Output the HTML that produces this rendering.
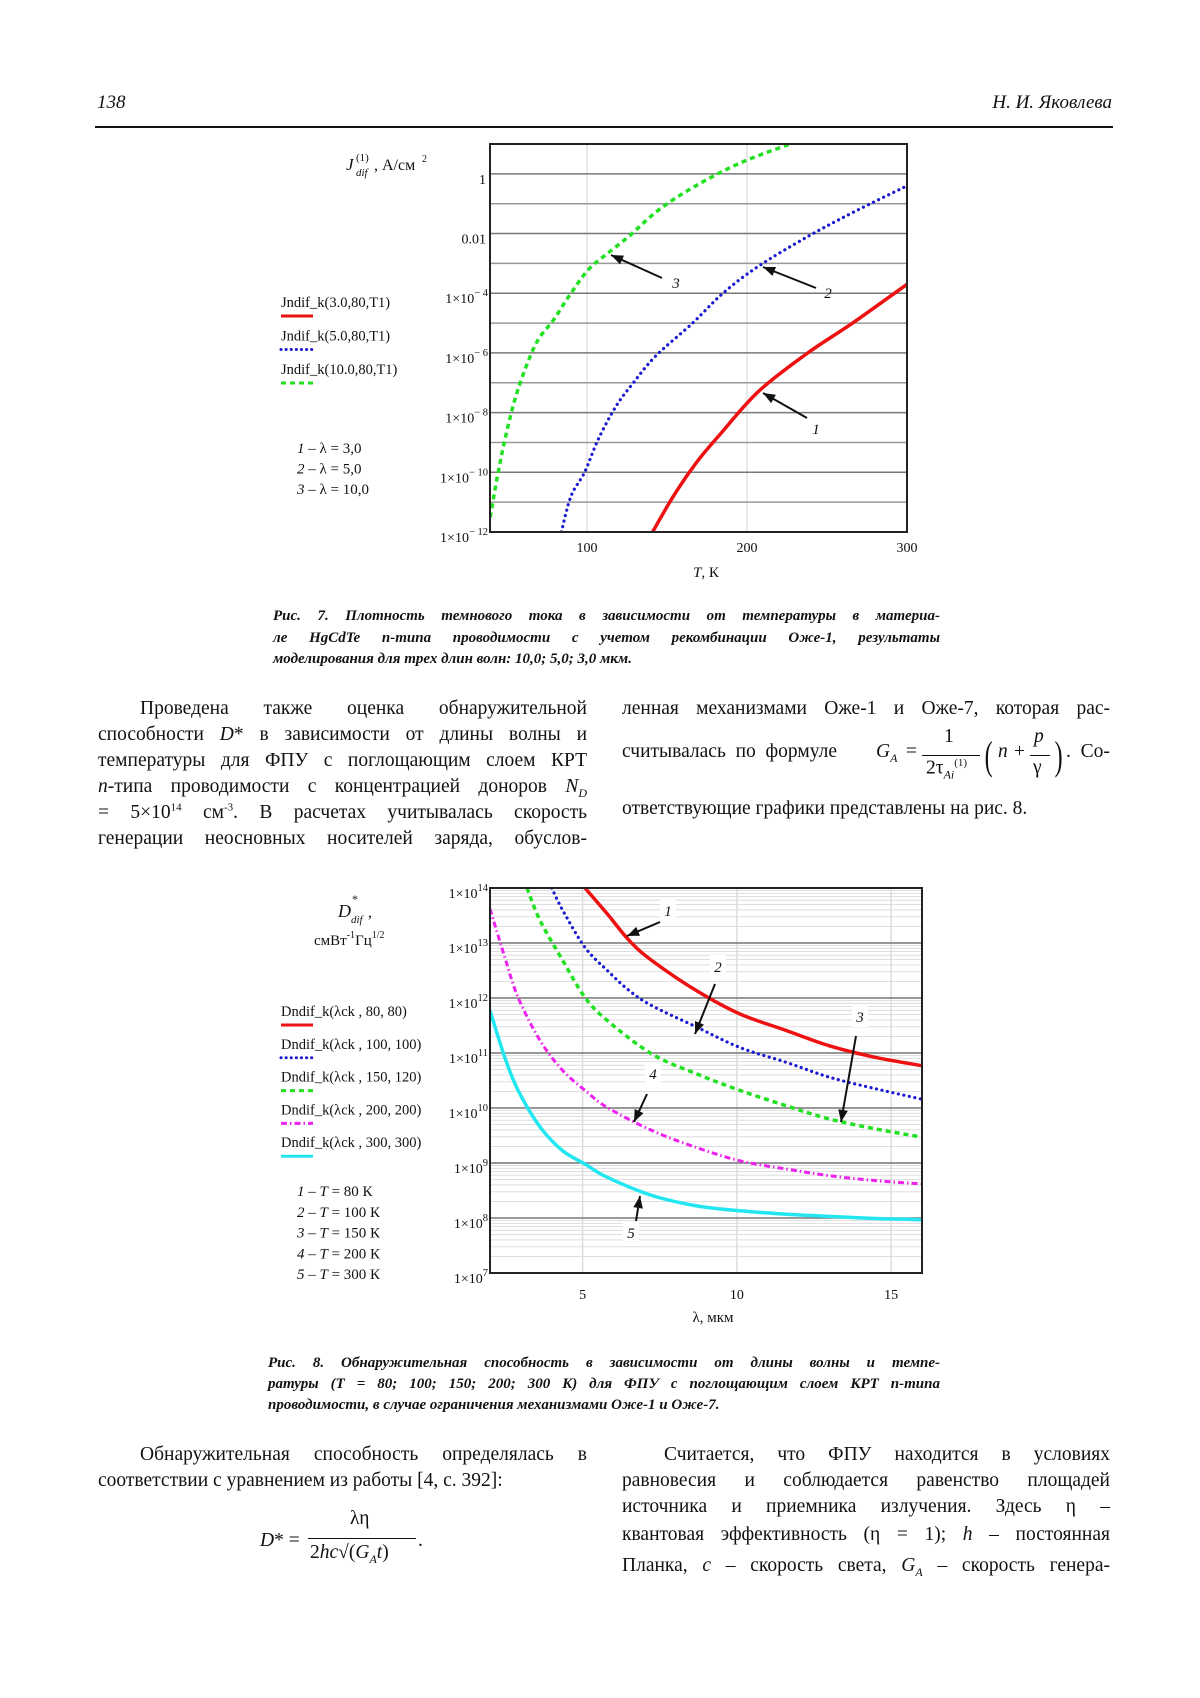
<!DOCTYPE html>
<html><head><meta charset="utf-8">
<style>
html,body{margin:0;padding:0;background:#fff;}
body{width:1200px;height:1698px;position:relative;overflow:hidden;font-family:"Liberation Serif","Noto Serif CJK SC",serif;color:#111;}
.ab{position:absolute;white-space:nowrap;}
.ln{position:absolute;font-size:19.5px;line-height:26px;height:26px;text-align:justify;text-align-last:justify;white-space:nowrap;box-sizing:border-box;}
.ln.ind{padding-left:42px;}
.ln.last{text-align-last:left;}
.ln sup,.ln sub{line-height:0;}
.cap{position:absolute;font-size:15px;font-weight:bold;font-style:italic;line-height:21px;text-align:justify;text-align-last:justify;white-space:nowrap;}
.cap.last{text-align-last:left;}
svg text{font-family:"Liberation Serif",serif;}
</style></head><body>
<div class="ab" style="left:97px;top:92px;font-size:19px;font-style:italic;">138</div>
<div class="ab" style="right:88px;top:92px;font-size:19px;font-style:italic;">Н. И. Яковлева</div>
<div class="ab" style="left:95px;top:126px;width:1018px;height:1.5px;background:#111;"></div>

<svg id="chart1" width="1200" height="600" style="position:absolute;left:0;top:0;"></svg>
<svg id="chart2" width="1200" height="1340" style="position:absolute;left:0;top:0;"></svg>

<div class="cap" style="left:273px;top:606px;width:667px;">Рис. 7. Плотность темнового тока в зависимости от температуры в материа-</div>
<div class="cap" style="left:273px;top:628px;width:667px;">ле HgCdTe n-типа проводимости с учетом рекомбинации Оже-1, результаты</div>
<div class="cap last" style="left:273px;top:649px;width:667px;">моделирования для трех длин волн: 10,0; 5,0; 3,0 мкм.</div>

<div>
<div class="ln ind" style="left:98px;top:696px;width:489px;">Проведена также оценка обнаружительной</div>
<div class="ln" style="left:98px;top:722px;width:489px;">способности <i>D</i>* в зависимости от длины волны и</div>
<div class="ln" style="left:98px;top:748px;width:489px;">температуры для ФПУ с поглощающим слоем КРТ</div>
<div class="ln" style="left:98px;top:774px;width:489px;"><i>n</i>-типа проводимости с концентрацией доноров <i>N<sub style="font-size:12px">D</sub></i></div>
<div class="ln" style="left:98px;top:800px;width:489px;">= 5×10<sup style="font-size:11px">14</sup> см<sup style="font-size:11px">-3</sup>. В расчетах учитывалась скорость</div>
<div class="ln" style="left:98px;top:826px;width:489px;">генерации неосновных носителей заряда, обуслов-</div>
</div>
<div>
<div class="ln" style="left:622px;top:696px;width:488px;">ленная механизмами Оже-1 и Оже-7, которая рас-</div>
<div class="ab" style="left:622px;top:741px;font-size:19.5px;">считывалась&nbsp;&nbsp;по&nbsp;&nbsp;формуле</div>
<div class="ab" style="left:876px;top:728px;font-size:19.5px;width:230px;height:60px;">
 <span class="ab" style="left:0;top:13px;font-style:italic;">G<sub style="font-size:12px">A</sub></span>
 <span class="ab" style="left:30px;top:13px;">=</span>
 <span class="ab" style="left:68px;top:-2px;">1</span>
 <span class="ab" style="left:46px;top:27px;width:58px;border-top:1.3px solid #111;"></span>
 <span class="ab" style="left:50px;top:29px;">2τ<sub style="font-size:12px;font-style:italic">Ai</sub><sup style="font-size:11px">(1)</sup></span>
 <span class="ab" style="left:106px;top:4px;font-size:40px;transform:scaleX(0.6);">(</span>
 <span class="ab" style="left:122px;top:13px;font-style:italic;">n</span>
 <span class="ab" style="left:138px;top:13px;">+</span>
 <span class="ab" style="left:158px;top:-2px;font-style:italic;">p</span>
 <span class="ab" style="left:154px;top:27px;width:20px;border-top:1.3px solid #111;"></span>
 <span class="ab" style="left:157px;top:29px;">γ</span>
 <span class="ab" style="left:176px;top:4px;font-size:40px;transform:scaleX(0.6);">)</span>
 <span class="ab" style="left:190px;top:13px;">.&nbsp;&nbsp;Со-</span>
</div>
<div class="ln last" style="left:622px;top:796px;width:488px;">ответствующие графики представлены на рис. 8.</div>
</div>

<div class="cap" style="left:268px;top:1353px;width:672px;">Рис. 8. Обнаружительная способность в зависимости от длины волны и темпе-</div>
<div class="cap" style="left:268px;top:1374px;width:672px;">ратуры (T = 80; 100; 150; 200; 300 K) для ФПУ с поглощающим слоем КРТ n-типа</div>
<div class="cap last" style="left:268px;top:1395px;width:672px;">проводимости, в случае ограничения механизмами Оже-1 и Оже-7.</div>

<div>
<div class="ln ind" style="left:98px;top:1442px;width:489px;">Обнаружительная способность определялась в</div>
<div class="ln last" style="left:98px;top:1468px;width:489px;">соответствии с уравнением из работы [4, с. 392]:</div>
<div class="ab" style="left:260px;top:1508px;width:170px;height:70px;font-size:19.5px;">
 <span class="ab" style="left:0;top:22px;"><i>D</i>*&nbsp;=</span>
 <span class="ab" style="left:90px;top:0px;">λη</span>
 <span class="ab" style="left:48px;top:30px;width:108px;border-top:1.3px solid #111;"></span>
 <span class="ab" style="left:50px;top:34px;">2<i>hc</i>√(<i>G<sub style="font-size:12px">A</sub>t</i>)</span>
 <span class="ab" style="left:158px;top:22px;">.</span>
</div>
</div>
<div>
<div class="ln ind" style="left:622px;top:1442px;width:488px;">Считается, что ФПУ находится в условиях</div>
<div class="ln" style="left:622px;top:1468px;width:488px;">равновесия и соблюдается равенство площадей</div>
<div class="ln" style="left:622px;top:1494px;width:488px;">источника и приемника излучения. Здесь η –</div>
<div class="ln" style="left:622px;top:1522px;width:488px;">квантовая эффективность (η = 1); <i>h</i> – постоянная</div>
<div class="ln" style="left:622px;top:1553px;width:488px;">Планка, <i>c</i> – скорость света, <i>G<sub style="font-size:12px">A</sub></i> – скорость генера-</div>
</div>

<script>
// ---------- Chart 1 data ----------
const c1T_red = [141,154,168,182,207,238,266,300];
const c1L_red = [-12,-10.8,-9.7,-8.8,-7.3,-6.0,-5.0,-3.7];
const c1T_blue = [84,90,98.5,107,118,129,143,166,185,207,238,266,300];
const c1L_blue = [-12,-10.8,-10,-8.9,-7.8,-7.0,-6.1,-5.0,-4.0,-3.1,-2.1,-1.3,-0.4];
const c1T_green = [39.5,44.5,50,57,68,79,90,101,112,126,145,168,196,227];
const c1L_green = [-11.5,-10.0,-8.6,-7.2,-5.7,-4.9,-4.0,-3.2,-2.7,-2.1,-1.2,-0.4,0.37,1.0];
const c1XTicks = [100,200,300];
const c1YTickExp = [0,-2,-4,-6,-8,-10,-12];
const c1Legend = ["Jndif_k(3.0,80,T1)","Jndif_k(5.0,80,T1)","Jndif_k(10.0,80,T1)"];

// ---------- Chart 2 data ----------
const c2X_red = [5.08,5.8,6.52,7.25,8.7,10.1,11.6,13.0,14.5,16];
const c2L_red = [14,13.53,13.04,12.68,12.13,11.71,11.41,11.13,10.92,10.77];
const c2X_blue = [4.0,4.36,5.08,5.8,6.52,7.25,8.7,10.1,11.6,13.0,14.5,16];
const c2L_blue = [14,13.59,12.92,12.5,12.13,11.86,11.47,11.1,10.83,10.56,10.35,10.16];
const c2X_green = [3.2,3.63,4.36,5.08,5.8,7.25,8.7,10.1,11.6,13.0,14.5,16];
const c2L_green = [14,13.4,12.68,12.01,11.59,10.98,10.62,10.32,10.04,9.8,9.62,9.47];
const c2X_mag = [2,2.48,2.91,3.63,4.36,5.08,5.8,7.25,8.7,10.1,11.6,13.0,14.5,16];
const c2L_mag = [13.62,12.74,12.01,11.22,10.68,10.32,10.01,9.59,9.28,9.04,8.89,8.77,8.68,8.62];
const c2X_cyan = [2,2.48,2.91,3.63,4.36,5.08,5.8,7.25,8.7,10.1,11.6,13.0,14.5,16];
const c2L_cyan = [11.77,10.92,10.32,9.65,9.22,8.98,8.74,8.41,8.22,8.13,8.07,8.03,7.99,7.97];
const c2XTicks = [5,10,15];
const c2YTickExp = [14,13,12,11,10,9,8,7];
const c2Legend = ["Dndif_k(λck , 80, 80)","Dndif_k(λck , 100, 100)","Dndif_k(λck , 150, 120)","Dndif_k(λck , 200, 200)","Dndif_k(λck , 300, 300)"];

const NS="http://www.w3.org/2000/svg";
function mk(parent,tag,attrs){const e=document.createElementNS(NS,tag);for(const k in attrs)e.setAttribute(k,attrs[k]);parent.appendChild(e);return e;}
function txt(parent,x,y,s,size,anchor,extra){const t=mk(parent,'text',{x:x,y:y,'font-size':size,'text-anchor':anchor||'start',fill:'#111'});if(extra)for(const k in extra)t.setAttribute(k,extra[k]);t.textContent=s;return t;}
function sci(parent,xr,y,exp,size){const t=mk(parent,'text',{x:xr,y:y,'font-size':size,'text-anchor':'end',fill:'#111'});
 const a=document.createElementNS(NS,'tspan');a.textContent='1×10';t.appendChild(a);
 const b=document.createElementNS(NS,'tspan');b.setAttribute('dy','-7');b.setAttribute('font-size',size*0.75);b.textContent=String(exp).replace('-','− ');t.appendChild(b);return t;}
function arrow(parent,x1,y1,x2,y2){mk(parent,'line',{x1:x1,y1:y1,x2:x2,y2:y2,stroke:'#111','stroke-width':2});
 const a=Math.atan2(y2-y1,x2-x1),L=13,w=0.38;
 mk(parent,'polygon',{points:`${x2},${y2} ${x2-L*Math.cos(a-w)},${y2-L*Math.sin(a-w)} ${x2-L*Math.cos(a+w)},${y2-L*Math.sin(a+w)}`,fill:'#111'});}
function path(parent,xs,ls,sx,sy,style){
 const P=xs.map((x,i)=>[sx(x),sy(ls[i])]);
 let d='M'+P[0][0].toFixed(1)+','+P[0][1].toFixed(1);
 for(let i=0;i<P.length-1;i++){const p0=P[Math.max(0,i-1)],p1=P[i],p2=P[i+1],p3=P[Math.min(P.length-1,i+2)];
  const c1=[p1[0]+(p2[0]-p0[0])/6,p1[1]+(p2[1]-p0[1])/6],c2=[p2[0]-(p3[0]-p1[0])/6,p2[1]-(p3[1]-p1[1])/6];
  d+='C'+c1[0].toFixed(1)+','+c1[1].toFixed(1)+' '+c2[0].toFixed(1)+','+c2[1].toFixed(1)+' '+p2[0].toFixed(1)+','+p2[1].toFixed(1);}
 return mk(parent,'path',Object.assign({d:d,fill:'none','stroke-linecap':'round','stroke-linejoin':'round'},style));}

// ---------- Chart 1 ----------
(function(){
 const svg=document.getElementById('chart1');
 const L=490,R=907,T=144,B=532,xmin=39.4,xmax=300,ymin=-12,ymax=1;
 const sx=v=>L+(v-xmin)/(xmax-xmin)*(R-L);
 const sy=v=>B-(v-ymin)/(ymax-ymin)*(B-T);
 const clip=mk(svg,'clipPath',{id:'cp1'});mk(clip,'rect',{x:L,y:T,width:R-L,height:B-T});
 c1XTicks.forEach(v=>{if(v<xmax){const g=mk(svg,'line',{x1:sx(v),x2:sx(v),y1:T,y2:B,stroke:'#e2e2e2','stroke-width':1.5});
  }
  const t=txt(svg,sx(v),552,String(v),14,'middle');});
 for(let e=ymin+1;e<ymax;e++){const g=mk(svg,'line',{x1:L,x2:R,y1:sy(e),y2:sy(e),stroke:(e%2===0)?'#777':'#999','stroke-width':1.5});
  }
 c1YTickExp.forEach(e=>{let t;
  if(e===0)t=txt(svg,L-4,sy(e)+10,'1',14,'end');
  else if(e===-2)t=txt(svg,L-4,sy(e)+10,'0.01',14,'end');
  else t=sci(svg,L-2,sy(e)+10,e,14);
  });
 const g=mk(svg,'g',{'clip-path':'url(#cp1)'});
 const p1=path(g,c1T_red,c1L_red,sx,sy,{stroke:'#ee1111','stroke-width':3.5});
 
 const p2=path(g,c1T_blue,c1L_blue,sx,sy,{stroke:'#1a1ad0','stroke-width':3.2,'stroke-dasharray':'0.1 5.5'});
 
 const p3=path(g,c1T_green,c1L_green,sx,sy,{stroke:'#22e022','stroke-width':3.5,'stroke-dasharray':'5 4','stroke-linecap':'butt'});
 
 const fr=mk(svg,'rect',{x:L,y:T,width:R-L,height:B-T,fill:'none',stroke:'#222','stroke-width':2});
 
 arrow(svg,662,278,611,255);txt(svg,676,288,'3',15,'middle',{'font-style':'italic'});
 arrow(svg,816,288,763,267);txt(svg,828,298,'2',15,'middle',{'font-style':'italic'});
 arrow(svg,807,418,763,393);txt(svg,816,434,'1',15,'middle',{'font-style':'italic'});
 const xt=txt(svg,706,577,'',15,'middle');xt.innerHTML='<tspan font-style="italic">T</tspan>, К';
 
 const yg=mk(svg,'g',{});
 txt(yg,346,170,'J',17,'start',{'font-style':'italic'});
 txt(yg,356,161,'(1)',11,'start');
 txt(yg,356,176,'dif',11,'start',{'font-style':'italic'});
 txt(yg,374,170,', А/см',16,'start');
 txt(yg,422,162,'2',10,'start');
 const styles=[{stroke:'#ee1111','stroke-width':3},{stroke:'#1a1ad0','stroke-width':3,'stroke-dasharray':'0.1 5','stroke-linecap':'round'},{stroke:'#22e022','stroke-width':3,'stroke-dasharray':'5 4'}];
 c1Legend.forEach((s,i)=>{const y=302+i*33.5;
  const t=txt(svg,281,y+5,s,14.5,'start');
  const l=mk(svg,'line',Object.assign({x1:281,x2:313,y1:y+14,y2:y+14},styles[i]));});
 const notes=['1 – λ = 3,0','2 – λ = 5,0','3 – λ = 10,0'];
 notes.forEach((s,i)=>{const t=txt(svg,297,453+i*20.5,'',15,'start');t.innerHTML='<tspan font-style="italic">'+s[0]+'</tspan>'+s.slice(1);
  });
})();

// ---------- Chart 2 ----------
(function(){
 const svg=document.getElementById('chart2');
 const L=490,R=922,T=888,B=1273,xmin=2,xmax=16,ymin=7,ymax=14;
 const sx=v=>L+(v-xmin)/(xmax-xmin)*(R-L);
 const sy=v=>B-(v-ymin)/(ymax-ymin)*(B-T);
 const clip=mk(svg,'clipPath',{id:'cp2'});mk(clip,'rect',{x:L,y:T,width:R-L,height:B-T});
 for(let e=ymin;e<ymax;e++)for(let k=2;k<=9;k++){mk(svg,'line',{x1:L,x2:R,y1:sy(e+Math.log10(k)),y2:sy(e+Math.log10(k)),stroke:'#dedede','stroke-width':1});}
 c2XTicks.forEach(v=>{const g=mk(svg,'line',{x1:sx(v),x2:sx(v),y1:T,y2:B,stroke:'#dcdcdc','stroke-width':1.5});
  
  const t=txt(svg,sx(v),1299,String(v),14,'middle');});
 for(let e=ymin+1;e<ymax;e++){const g=mk(svg,'line',{x1:L,x2:R,y1:sy(e),y2:sy(e),stroke:'#777','stroke-width':1.5});
  }
 c2YTickExp.forEach(e=>{const t=sci(svg,L-2,sy(e)+10,e,14);});
 const g=mk(svg,'g',{'clip-path':'url(#cp2)'});
 const defs=[[c2X_red,c2L_red,{stroke:'#ee1111','stroke-width':3.5},'series-t80'],
  [c2X_blue,c2L_blue,{stroke:'#1a1ad0','stroke-width':3.2,'stroke-dasharray':'0.1 5.5'},'series-t100'],
  [c2X_green,c2L_green,{stroke:'#22e022','stroke-width':3.5,'stroke-dasharray':'5 4','stroke-linecap':'butt'},'series-t150'],
  [c2X_mag,c2L_mag,{stroke:'#ee22ee','stroke-width':3,'stroke-dasharray':'6 3 1.5 3','stroke-linecap':'butt'},'series-t200'],
  [c2X_cyan,c2L_cyan,{stroke:'#22e6f0','stroke-width':3.5},'series-t300']];
 defs.forEach(d=>{const p=path(g,d[0],d[1],sx,sy,d[2]);});
 const fr=mk(svg,'rect',{x:L,y:T,width:R-L,height:B-T,fill:'none',stroke:'#222','stroke-width':2});
 
 const lab=[['1',668,916],['2',718,972],['3',860,1022],['4',653,1079],['5',631,1238]];
 lab.forEach(l=>{mk(svg,'rect',{x:l[1]-8,y:l[2]-17,width:16,height:22,fill:'#fff'});txt(svg,l[1],l[2],l[0],15,'middle',{'font-style':'italic'});});
 arrow(svg,660,922,627,936);
 arrow(svg,715,984,695,1034);
 arrow(svg,856,1036,841,1122);
 arrow(svg,647,1094,634,1122);
 arrow(svg,636,1221,640,1196);
 const xt=txt(svg,713,1322,'λ, мкм',15,'middle');
 const yg=mk(svg,'g',{});
 txt(yg,338,917,'D',18,'start',{'font-style':'italic'});
 txt(yg,352,903,'*',12,'start');
 txt(yg,351,923,'dif',11,'start',{'font-style':'italic'});
 txt(yg,368,917,',',16,'start');
 const yu=txt(svg,314,945,'',15,'start');yu.innerHTML='смВт<tspan dy="-7" font-size="10">-1</tspan><tspan dy="7">Гц</tspan><tspan dy="-7" font-size="10">1/2</tspan>';
 
 const st=[{stroke:'#ee1111','stroke-width':3},{stroke:'#1a1ad0','stroke-width':3,'stroke-dasharray':'0.1 5','stroke-linecap':'round'},{stroke:'#22e022','stroke-width':3,'stroke-dasharray':'5 4'},{stroke:'#ee22ee','stroke-width':3,'stroke-dasharray':'6 3 1.5 3'},{stroke:'#22e6f0','stroke-width':3}];
 c2Legend.forEach((s,i)=>{const y=1011+i*32.8;
  const t=txt(svg,281,y+5,s,14.5,'start');
  const l=mk(svg,'line',Object.assign({x1:281,x2:313,y1:y+14,y2:y+14},st[i]));});
 const notes=[['1','80'],['2','100'],['3','150'],['4','200'],['5','300']];
 notes.forEach((n,i)=>{const t=txt(svg,297,1196+i*20.8,'',15,'start');t.innerHTML='<tspan font-style="italic">'+n[0]+' – T</tspan> = '+n[1]+' К';
  });
})();
</script>
</body></html>
